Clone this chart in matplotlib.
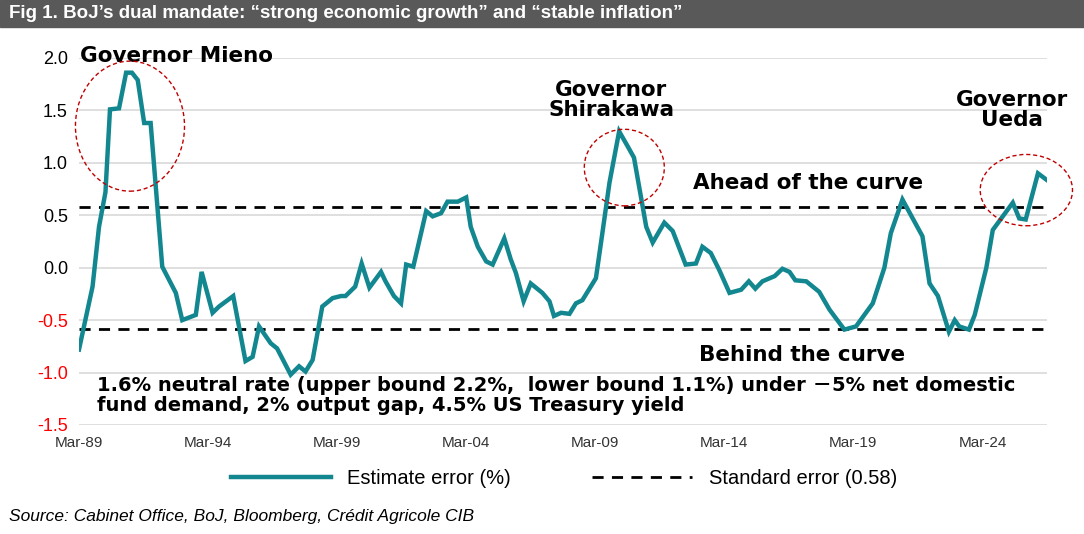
import matplotlib
matplotlib.use("Agg")
import matplotlib.pyplot as plt
from matplotlib.patches import Ellipse
from matplotlib.lines import Line2D

# quarters since Mar-89
quarters = [0,2.1,3.1,4.1,4.8,6.2,7.3,8.2,9.1,10.1,11.1,12.9,15,16,18.1,19,20.7,21.7,23.9,25.8,26.9,27.9,29.7,30.7,32.8,34.1,35.1,36.2,37.7,39.3,40.6,41.3,42.8,43.8,45,46.8,47.5,48.8,49.9,50.7,51.8,53.8,54.8,56.1,57.1,58.7,60,60.7,61.8,63.1,64.1,65.9,66.9,67.7,68.9,70,71.8,72.9,73.6,74.7,76,77,78,80.1,81.1,82.2,83.7,85,86,87.9,88.9,90.7,92,94,95.6,96.6,97.9,99.2,100.8,102.6,103.8,104.8,105.9,107.8,109,110.1,111,112.7,114.7,116.3,118.6,120.4,123,124.8,125.8,127.6,130.7,131.8,133.1,134.8,135.7,136.4,137.9,138.8,140.6,141.6,144.7,145.7,146.7,148.6,149.9]
estimate_error = [-0.78,-0.18,0.39,0.72,1.51,1.52,1.86,1.86,1.79,1.38,1.38,0.01,-0.24,-0.50,-0.45,-0.04,-0.43,-0.37,-0.27,-0.89,-0.85,-0.56,-0.72,-0.77,-1.02,-0.94,-0.99,-0.88,-0.37,-0.29,-0.27,-0.27,-0.18,0.04,-0.19,-0.04,-0.13,-0.27,-0.34,0.03,0.01,0.54,0.49,0.52,0.63,0.63,0.67,0.39,0.20,0.06,0.03,0.28,0.08,-0.05,-0.32,-0.15,-0.24,-0.32,-0.46,-0.43,-0.44,-0.34,-0.31,-0.10,0.33,0.81,1.30,1.16,1.05,0.39,0.24,0.43,0.35,0.03,0.04,0.20,0.14,-0.02,-0.24,-0.21,-0.13,-0.20,-0.13,-0.08,-0.01,-0.04,-0.12,-0.13,-0.23,-0.40,-0.59,-0.56,-0.34,0.00,0.33,0.65,0.30,-0.15,-0.27,-0.61,-0.50,-0.56,-0.59,-0.45,0.00,0.36,0.62,0.47,0.46,0.90,0.84]
std_error = 0.58
tick_pos = [0,20,40,60,80,100,120,140]
tick_labels = ["Mar-89","Mar-94","Mar-99","Mar-04","Mar-09","Mar-14","Mar-19","Mar-24"]
yticks = [2.0,1.5,1.0,0.5,0.0,-0.5,-1.0,-1.5]

teal = "#138790"
plt.rcParams['font.family'] = ['Liberation Sans', 'DejaVu Sans']
fig = plt.figure(figsize=(10.84,5.34), dpi=100)
fig.patches.append(plt.Rectangle((0,1-27/534),1,27/534,transform=fig.transFigure,color="#595959",zorder=0))
fig.text(0.008,1-14/534,"Fig 1. BoJ’s dual mandate: “strong economic growth” and “stable inflation”",
         color="white",fontsize=13.5,fontweight="bold",va="center")
fig.text(0.008,1-517/534,"Source: Cabinet Office, BoJ, Bloomberg, Crédit Agricole CIB",fontsize=12.5,style="italic",va="center")

ax = fig.add_axes([79/1084, 1-425/534, (1047-79)/1084, (425-58)/534])
for s in ax.spines.values(): s.set_visible(False)
ax.set_xlim(0,150); ax.set_ylim(-1.5,2.0)
ax.set_yticks(yticks)
ax.set_yticklabels([f"{v:.1f}" for v in yticks], fontsize=13)
for t,v in zip(ax.get_yticklabels(), yticks):
    t.set_color("red" if v<0 else "black")
ax.set_xticks(tick_pos); ax.set_xticklabels(tick_labels, fontsize=11, color="#333333")
ax.tick_params(axis='y', length=0, pad=8)
ax.tick_params(axis='x', length=0, pad=8)
ax.grid(axis='y', color="#d9d9d9", lw=1.2)
ax.set_axisbelow(True)

ax.plot(quarters, estimate_error, color=teal, lw=3.2, solid_joinstyle="miter", zorder=3)
ax.axhline(std_error, color="black", ls=(0,(4,3)), lw=2, zorder=2)
ax.axhline(-std_error, color="black", ls=(0,(4,3)), lw=2, zorder=2)

for (cx,cy,w,h) in [(7.9,1.35,16.9,1.24),(84.5,0.955,12.4,0.73),(146.8,0.74,14.3,0.68)]:
    ax.add_patch(Ellipse((cx,cy),w,h,fill=False,ec="#c00000",ls=(0,(3,2)),lw=1,zorder=4,clip_on=False))

bold = dict(fontweight="bold", fontsize=15.5, family=['DejaVu Sans'])
ax.text(0.2,2.02,"Governor Mieno",ha="left",va="center",**bold)
ax.text(82.5,1.6,"Governor\nShirakawa",ha="center",va="center",linespacing=1.0,**bold)
ax.text(144.5,1.5,"Governor\nUeda",ha="center",va="center",linespacing=1.0,**bold)
ax.text(113,0.81,"Ahead of the curve",ha="center",va="center",**bold)
ax.text(112,-0.83,"Behind the curve",ha="center",va="center",**bold)
ax.text(2.8,-1.22,"1.6% neutral rate (upper bound 2.2%,  lower bound 1.1%) under －5% net domestic\nfund demand, 2% output gap, 4.5% US Treasury yield",
        ha="left",va="center",fontweight="bold",fontsize=14,linespacing=1.05,
        family=['DejaVu Sans','Noto Sans CJK JP'])

handles=[Line2D([],[],color=teal,lw=3.2),Line2D([],[],color="black",ls=(0,(4,3)),lw=2)]
fig.legend(handles,["Estimate error (%)","Standard error (0.58)"],loc="center",
           bbox_to_anchor=(0.52,1-479/534),ncol=2,frameon=False,fontsize=14.5,handlelength=5,columnspacing=4)
fig.savefig("out.png",dpi=100)
